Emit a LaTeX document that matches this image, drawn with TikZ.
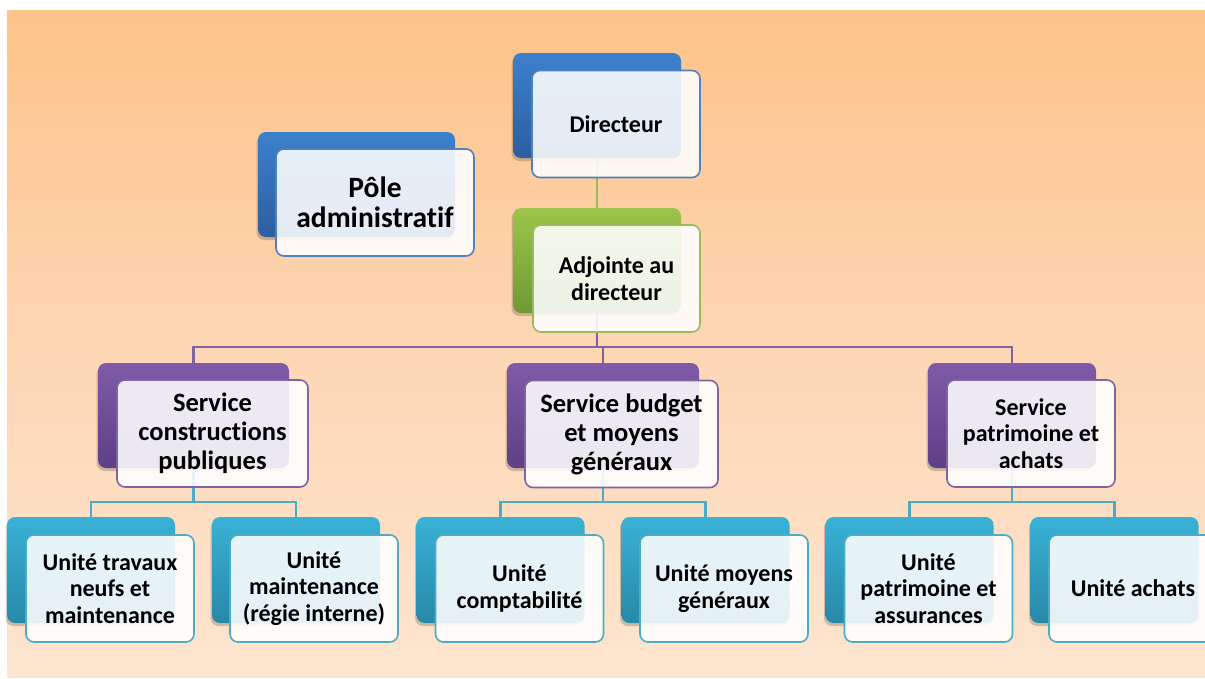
\documentclass[tikz,border=0pt]{standalone}
\usepackage{fontspec}
\setmainfont{Carlito}[Ligatures={NoCommon,NoRequired,NoContextual}]
\usetikzlibrary{shadows,calc}
\definecolor{bgtop}{RGB}{253,195,137}
\definecolor{bgmid}{RGB}{253,214,180}
\definecolor{bgbot}{RGB}{253,229,208}
\definecolor{blueA}{RGB}{60,128,204}
\definecolor{blueB}{RGB}{44,94,160}
\definecolor{blueL}{RGB}{79,129,189}
\definecolor{greenA}{RGB}{157,197,74}
\definecolor{greenB}{RGB}{112,152,54}
\definecolor{greenL}{RGB}{155,187,89}
\definecolor{purpA}{RGB}{128,90,168}
\definecolor{purpB}{RGB}{94,64,134}
\definecolor{purpL}{RGB}{128,100,162}
\definecolor{cyanA}{RGB}{57,178,214}
\definecolor{cyanB}{RGB}{40,136,168}
\definecolor{cyanL}{RGB}{75,172,198}
\pgfdeclarelayer{bg}
\pgfdeclarelayer{lines}
\pgfsetlayers{bg,lines,main}
\tikzset{
  backbox/.style={rectangle, rounded corners=8pt, minimum height=105pt, inner sep=0pt, draw=none,
    drop shadow={shadow xshift=-1.5pt, shadow yshift=-3pt, opacity=0.18, fill=black}},
  bkblue/.style={backbox, top color=blueA, bottom color=blueB},
  bkgreen/.style={backbox, top color=greenA, bottom color=greenB},
  bkpurp/.style={backbox, top color=purpA, bottom color=purpB},
  bkcyan/.style={backbox, top color=cyanA, bottom color=cyanB, minimum height=106pt, minimum width=168pt},
  frontbox/.style={rectangle, rounded corners=8pt, minimum height=107pt, inner sep=2pt, fill=white,
    fill opacity=0.88, text opacity=1, line width=1.6pt, align=center, text=black},
  fblue/.style={frontbox, draw=blueL},
  fgreen/.style={frontbox, draw=greenL},
  fpurp/.style={frontbox, draw=purpL},
  fcyan/.style={frontbox, draw=cyanL, minimum width=168pt},
  tsmall/.style={font=\bfseries\fontsize{24}{26.5}\selectfont},
  tmid/.style={font=\bfseries\fontsize{26.5}{29}\selectfont},
  tbig/.style={font=\bfseries\fontsize{29.5}{30.5}\selectfont},
  greenline/.style={draw=greenL, line width=2pt},
  purpline/.style={draw=purpL, line width=2.3pt},
  cyanline/.style={draw=cyanL, line width=2.3pt},
}
\begin{document}
\begin{tikzpicture}[x=1pt,y=-1pt]
\useasboundingbox (0,0) rectangle (1205,678);
\begin{pgfonlayer}{bg}
  \fill[top color=bgtop, bottom color=bgbot, middle color=bgmid] (7,10) rectangle (1205,677);
\end{pgfonlayer}

% back boxes
\node[bkblue, minimum width=168pt] (dirB) at (597,105.5) {};
\node[bkblue, minimum width=197pt] (poleB) at (356.5,184.5) {};
\node[bkgreen, minimum width=168pt] (adjB) at (597,260.5) {};
\node[bkpurp, minimum width=191pt] (scB) at (193.5,415.5) {};
\node[bkpurp, minimum width=192pt] (sbB) at (603,415.5) {};
\node[bkpurp, minimum width=168pt] (spB) at (1012,415.5) {};
\node[bkcyan] (u1B) at (91,570) {};
\node[bkcyan] (u2B) at (296,570) {};
\node[bkcyan] (u3B) at (500.5,570) {};
\node[bkcyan] (u4B) at (705.5,570) {};
\node[bkcyan] (u5B) at (909.5,570) {};
\node[bkcyan] (u6B) at (1114.5,570) {};

% front boxes
\node[fblue, tsmall, minimum width=168pt] (dirF) at (616,124) {Directeur};
\node[fblue, tbig, minimum width=198pt] (poleF) at (375,202.5) {Pôle\\administratif};
\node[fgreen, tsmall, minimum width=167pt] (adjF) at (616.5,278.5) {Adjointe au\\directeur};
\node[fpurp, tmid, minimum width=191pt] (scF) at (212.5,433.5) {Service\\constructions\\publiques};
\node[fpurp, tmid, minimum width=193pt] (sbF) at (621.5,434) {Service budget\\et moyens\\généraux};
\node[fpurp, tsmall, minimum width=168pt] (spF) at (1031,433.5) {Service\\patrimoine et\\achats};
\node[fcyan, tsmall] (u1F) at (110,588.5) {Unité travaux\\neufs et\\maintenance};
\node[fcyan, tsmall] (u2F) at (314,588.5) {Unité\\maintenance\\(régie interne)};
\node[fcyan, tsmall] (u3F) at (519.5,588.5) {Unité\\comptabilité};
\node[fcyan, tsmall] (u4F) at (724,588.5) {Unité moyens\\généraux};
\node[fcyan, tsmall] (u5F) at (928.5,588.5) {Unité\\patrimoine et\\assurances};
\node[fcyan, tsmall] (u6F) at (1133,588.5) {Unité achats};

% connectors
\coordinate (pbus) at (0,347);
\coordinate (cbus) at (0,502);
\begin{pgfonlayer}{lines}
  \draw[greenline] (dirB.south) -- (adjB.north);
  \draw[purpline] (adjB.south) -- (adjB.south |- pbus);
  \draw[purpline] (scB.north) |- (spB.north |- pbus) -- (spB.north);
  \draw[purpline] (sbB.north) -- (sbB.north |- pbus);
  \draw[cyanline] (scB.south) -- (scB.south |- cbus);
  \draw[cyanline] (u1B.north) |- (u2B.north |- cbus) -- (u2B.north);
  \draw[cyanline] (sbB.south) -- (sbB.south |- cbus);
  \draw[cyanline] (u3B.north) |- (u4B.north |- cbus) -- (u4B.north);
  \draw[cyanline] (spB.south) -- (spB.south |- cbus);
  \draw[cyanline] (u5B.north) |- (u6B.north |- cbus) -- (u6B.north);
\end{pgfonlayer}
\end{tikzpicture}
\end{document}
